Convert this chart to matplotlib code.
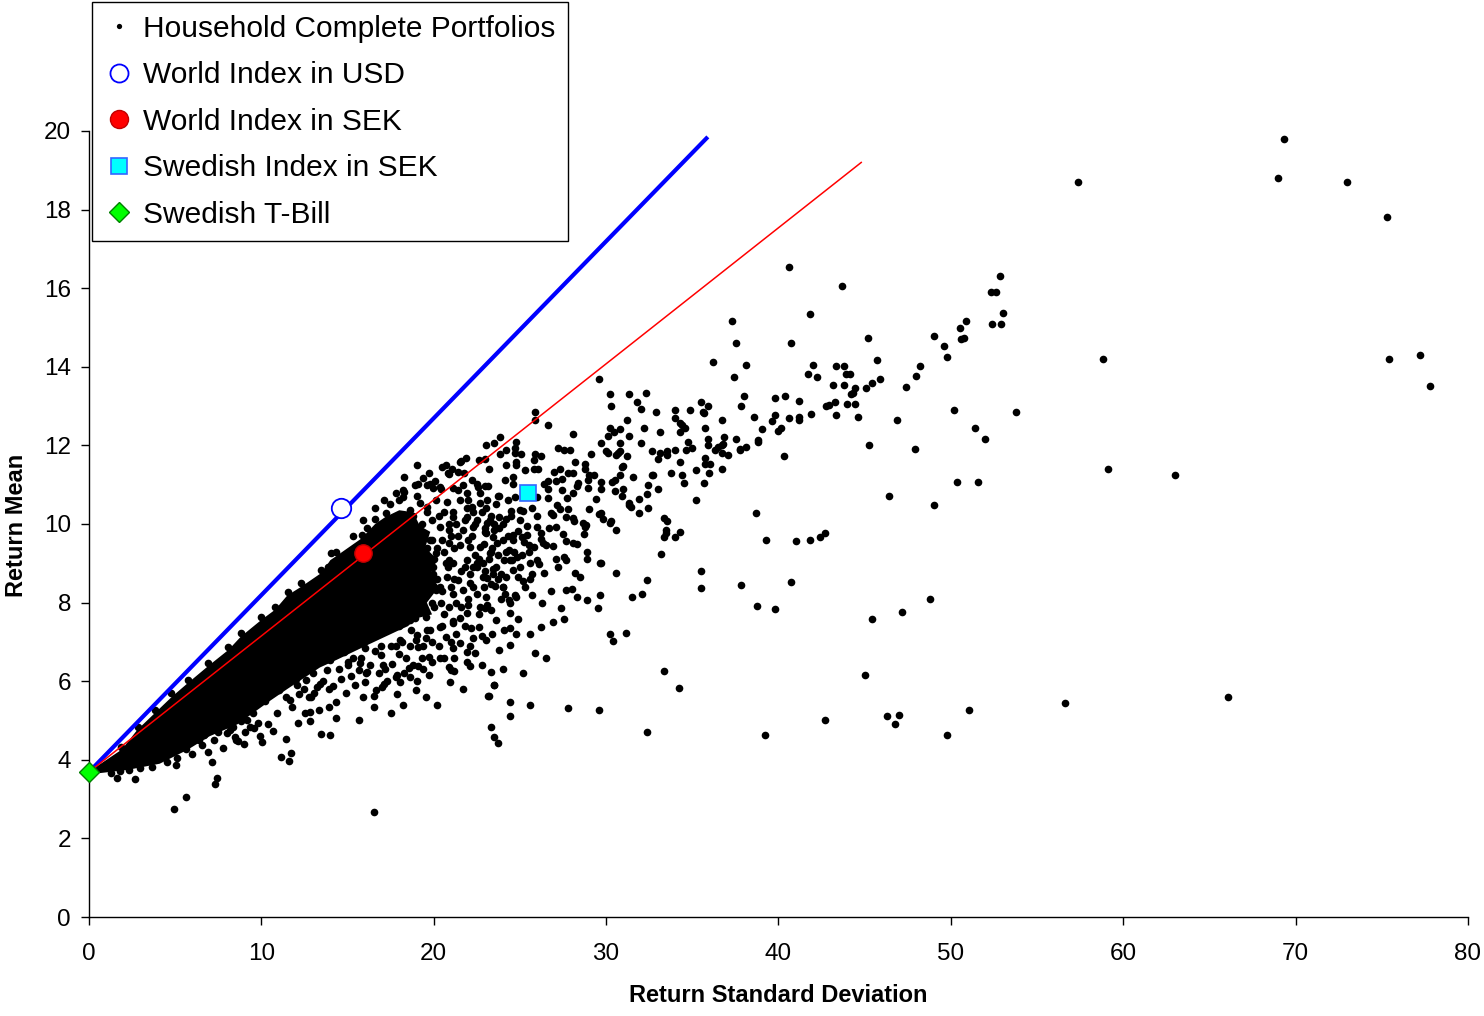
import matplotlib
matplotlib.use("Agg")
import matplotlib.pyplot as plt
from matplotlib.lines import Line2D

plt.rcParams['font.family'] = ['Liberation Sans', 'DejaVu Sans']

# ---------------- data (return std. dev., return mean) ----------------
# scattered household portfolios, far right
far_pts = [(69.3,19.8),(57.4,18.7),(69.0,18.8),(73.0,18.7),(75.3,17.8),(58.8,14.2),(75.4,14.2),
           (77.2,14.3),(77.8,13.5),(59.1,11.4),(63.0,11.25),(56.6,5.45),(66.1,5.6)]

# upper right band (sd 40-54)
upper_band_pts = [(40.6,16.55),(43.7,16.06),(41.8,15.34),(40.7,14.61),(45.2,14.74),(52.85,16.3),(52.3,15.9),
    (52.6,15.9),(53.0,15.38),(52.4,15.1),(52.9,15.1),(50.9,15.17),(50.55,14.98),(50.6,14.7),(50.75,14.73),
    (49.0,14.78),(49.6,14.54),(49.8,14.26),(48.2,14.01),(48.0,13.77),(47.4,13.49),(46.9,12.65),(45.7,14.17),
    (45.9,13.7),(45.45,13.58),(45.1,13.46),(44.45,13.47),(44.3,13.34),(44.2,13.32),(44.0,13.05),(44.45,13.05),
    (44.6,12.73),(43.35,14.01),(43.8,14.01),(43.9,13.82),(44.15,13.82),(43.15,13.54),(43.8,13.54),(43.25,13.1),
    (42.95,13.02),(42.75,13.0),(43.35,12.77),(42.0,14.05),(41.7,13.82),(42.25,13.74),(40.4,13.26),(41.2,13.14),
    (40.6,12.69),(41.2,12.73),(41.2,12.65),(41.9,12.81),(40.15,12.45),(45.25,12.02),(50.2,12.89),(53.8,12.85),
    (51.4,12.45),(52.0,12.17),(47.9,11.9),(37.3,15.17)]

# middle band (sd 29-43)
mid_band_pts = [(37.55,14.61),(36.2,14.13),(38.1,14.05),(37.4,13.73),(29.6,13.7),(30.2,13.3),(31.3,13.3),
    (32.3,13.33),(30.3,13.01),(31.8,13.1),(32.0,12.93),(32.9,12.86),(34.0,12.89),(34.85,12.89),(35.5,13.1),
    (35.9,13.01),(35.6,12.86),(35.7,12.82),(38.0,13.26),(37.85,13.01),(39.8,13.21),(39.8,12.77),(39.6,12.61),
    (38.6,12.73),(39.05,12.41),(40.0,12.37),(38.8,12.13),(38.8,12.09),(38.1,11.97),(37.75,11.92),(37.75,11.88),
    (37.55,12.17),(40.3,11.73),(36.75,12.65),(35.75,12.45),(34.75,12.09),(35.0,11.93),(34.65,11.89),(34.3,12.57),
    (34.4,12.53),(34.55,12.45),(34.3,12.33),(34.0,12.69),(33.1,12.33),(32.2,12.45),(31.2,12.65),(30.8,12.41),
    (30.45,12.33),(30.2,12.45),(30.1,12.25),(31.35,12.25),(32.0,12.05),(29.7,12.05),(30.8,12.05),(30.0,11.85),
    (30.1,11.8),(30.7,11.8),(30.6,11.76),(30.8,11.85),(31.2,11.73),(32.65,11.85),(33.1,11.8),(33.0,11.65),
    (33.55,11.85),(33.55,11.76),(34.0,11.89),(35.9,12.17),(35.9,12.0),(36.85,12.21),(36.3,11.89),(36.5,11.95),
    (36.7,12.0),(36.8,12.04),(36.75,11.8),(37.05,11.76),(35.75,11.69),(35.75,11.53),(36.0,11.53),(35.95,11.29),
    (36.7,11.41),(35.7,11.04),(35.2,11.37),(34.3,11.57),(33.75,11.29),(34.4,11.25),(34.5,11.04),(32.65,11.25),
    (32.7,11.25),(32.45,11.0),(33.0,10.88),(32.4,10.76),(31.9,10.64),(32.45,10.4),(31.9,10.29),(31.3,10.53),
    (31.35,10.48),(31.45,10.44),(31.55,11.2),(30.8,11.24),(30.9,11.44),(31.0,11.48),(30.35,11.08),(30.5,11.12),
    (29.7,11.08),(29.7,10.88),(30.5,10.84),(31.0,10.88),(30.9,10.72),(29.7,10.28),(29.8,10.12),(30.2,10.03),
    (30.3,10.08),(30.6,9.84),(29.7,9.0),(30.6,8.76),(32.35,8.57),(35.2,10.6),(33.35,10.16),(33.55,10.08),
    (33.45,9.84),(33.45,9.76),(33.35,9.68),(34.3,9.8),(34.0,9.68),(33.2,9.24),(35.5,8.8),(35.5,8.36),
    (37.85,8.44),(40.7,8.52),(38.7,10.28),(39.3,9.59),(41.0,9.56),(41.8,9.59),(42.4,9.68),(42.7,9.76),
    (50.35,11.08),(51.6,11.08),(46.4,10.72),(49.05,10.48)]

# lower scattered portfolios (sd 22-52, mean 4-9.5)
lower_pts = [(38.75,7.91),(39.8,7.84),(48.8,8.1),(45.4,7.59),(47.15,7.75),(45.0,6.15),(51.05,5.26),
    (46.3,5.11),(47.0,5.15),(46.75,4.91),(42.7,5.02),(39.2,4.62),(49.8,4.62),(33.35,6.27),(34.25,5.83),
    (32.1,8.23),(31.5,8.15),(31.15,7.23),(30.2,7.19),(30.4,7.03),(32.4,4.71),(29.6,5.27),(27.8,5.31),
    (25.6,5.39),(24.4,5.47),(24.4,5.11),(23.3,4.83),(23.5,4.59),(23.7,4.44),(23.2,5.62),(23.5,5.9),
    (23.3,6.23),(25.9,6.71),(25.6,7.19),(24.8,7.19),(24.4,7.35),(24.4,6.91),(26.2,7.39),(26.9,7.51),
    (27.55,7.59),(27.4,7.87),(24.9,7.59),(22.8,7.15),(23.0,7.87),(23.1,7.93),(29.5,7.87),(28.9,8.07),
    (29.65,8.19),(28.3,8.15),(27.7,8.31),(28.0,8.35),(28.5,8.64),(28.2,8.76),(28.9,9.28),(28.9,9.12),
    (29.65,9.0),(27.1,9.12),(27.55,9.16),(27.7,9.08),(26.9,9.44),(26.4,8.75),(25.7,8.72),(25.2,8.56),
    (24.9,8.64),(24.2,8.64),(24.0,8.39),(24.15,8.23),(24.35,8.07),(24.7,8.19),(25.7,8.19),(23.3,8.48),
    (23.55,8.41),(26.1,8.97),(26.0,9.08),(25.5,9.28),(25.1,9.2),(24.6,8.84),(25.0,8.91)]

# band right of the dense core (sd 17-30, mean 8.5-13)
near_core_pts = [(25.9,12.85),(25.9,12.65),(26.6,12.53),(28.1,12.29),(23.05,12.01),(23.5,12.05),(23.85,12.21),
    (24.8,12.09),(24.7,11.93),(24.7,11.8),(24.2,11.89),(23.85,11.77),(24.2,11.49),(22.95,11.65),(25.05,11.77),
    (25.9,11.77),(26.25,11.73),(27.2,11.93),(27.55,11.89),(27.9,11.89),(25.8,11.64),(24.8,11.57),(24.8,11.49),
    (25.3,11.37),(25.8,11.41),(26.05,11.41),(27.0,11.33),(27.35,11.41),(27.8,11.29),(28.1,11.29),(28.2,11.57),
    (28.8,11.53),(28.75,11.41),(29.1,11.77),(29.0,11.25),(29.3,11.25),(28.95,11.13),(26.6,11.09),(27.1,11.09),
    (27.45,11.14),(28.35,11.04),(28.3,10.97),(29.4,10.64),(28.95,10.92),(27.45,10.86),(27.75,10.67),(28.05,10.8),
    (24.7,10.69),(24.15,11.12),(24.5,10.32),(25.0,10.36),(23.7,10.72),(23.0,10.97),(26.0,10.68),(26.4,11.03),
    (26.6,10.88),(26.6,10.65),(27.15,10.48),(27.35,10.39),(27.8,10.39),(26.8,10.27),(26.9,10.23),(27.65,10.19),
    (28.1,10.16),(28.15,10.08),(28.65,10.02),(28.85,9.97),(28.75,9.92),(29.0,10.39),(28.7,9.75),(29.6,10.25),
    (27.5,9.74),(27.7,9.56),(28.1,9.52),(28.3,9.49),(27.1,9.92),(26.2,9.78),(26.2,9.61),(25.4,9.71),
    (25.1,9.66),(26.0,9.92),(25.4,9.94),(24.9,9.82),(24.6,9.72),(25.7,10.41),(25.2,10.34),(24.2,10.13),
    (24.0,10.0),(24.3,9.7),(23.5,9.86),(23.1,10.02),(22.95,9.8),(23.65,9.52),(23.3,9.29),(23.7,9.21),
    (24.1,9.08),(24.55,9.08),(24.85,9.17),(24.35,9.34),(24.65,9.29),(25.5,9.47),(25.8,9.42),(26.35,9.52),
    (26.5,9.47),(25.25,9.54),(23.45,8.85),(23.1,8.62),(22.85,9.0),(23.9,8.74),
    (22.6,11.64),(21.85,11.69),(21.55,11.58),(20.5,11.44),(21.05,11.41),(20.9,11.26),(19.4,11.16),(19.1,11.03),
    (21.75,11.31),(22.2,11.12),(22.5,11.03),(22.55,10.95),(23.15,10.97),(18.25,10.82),(18.2,10.69),(19.8,11.03),
    (19.95,10.91),(20.35,10.95),(21.1,10.92),(21.4,10.86),(21.9,10.78),(22.0,10.61),(18.6,10.36),(19.2,10.53),
    (19.6,10.44),(20.15,10.61),(20.75,10.57),(21.5,10.61),(22.2,10.44),(22.7,10.53),(23.05,10.4),(21.1,10.19),
    (21.9,10.19),(22.5,10.1),(23.25,10.1),(23.8,10.19),(20.35,9.93),(20.9,9.85),(21.7,9.85),(22.3,9.93),
    (23.05,9.76),(23.45,9.68),(19.2,9.76),(19.8,9.59),(20.9,9.51),(21.5,9.47),(22.1,9.42),(22.7,9.42),
    (23.25,9.25),(20.15,9.25),(20.9,9.08),(21.9,9.08),(22.5,9.0),(19.4,9.0),(19.95,8.74),(20.75,8.66),
    (21.4,8.57),(22.1,8.74),(22.85,8.66),(23.45,8.74),(20.35,8.4),(21.7,8.32),(22.5,8.23),(20.85,11.29),
    (21.4,11.33),(24.6,11.2),(24.6,11.03),(18.2,10.87),(18.0,10.61),(17.45,10.52),(18.8,10.2),(19.6,10.3)]

# portfolios below the dense core (sd 1-25, mean 2.5-9)
below_core_pts = [(16.55,2.66),(11.15,4.06),(11.6,3.98),(11.7,4.18),(11.4,4.54),(10.05,4.46),(10.7,4.74),
    (13.45,4.66),(14.0,4.62),(12.15,4.94),(12.8,4.99),(14.35,5.06),(15.65,5.02),(16.55,5.34),(16.55,5.62),
    (16.65,5.78),(17.0,5.86),(17.1,5.94),(17.85,5.67),(18.95,5.78),(19.55,5.59),(17.85,6.15),(18.05,5.98),
    (15.45,5.9),(16.0,5.98),(14.35,5.46),(13.9,5.35),(13.35,5.27),(12.55,5.18),(12.8,5.22),(12.2,5.67),
    (12.75,5.6),(13.05,5.69),(13.2,5.86),(14.15,5.88),(14.6,6.06),(15.2,6.13),(16.05,6.22),(15.65,6.28),
    (18.55,6.34),(19.1,6.38),(19.75,6.16),(19.75,6.62),(20.95,5.99),(20.9,6.37),(21.0,6.29),(21.2,6.27),
    (20.35,6.58),(21.1,6.84),(21.9,6.75),(22.4,6.72),(21.9,6.48),(22.1,6.39),(23.15,5.62),(23.5,5.91),
    (22.15,7.36),(21.1,7.53),(18.95,7.05),(19.1,6.86),(18.0,6.69),(18.15,6.99),(16.95,6.66),(17.05,6.41),
    (15.7,6.47),(16.1,6.23),(15.05,6.5),(16.95,6.9),(16.6,6.77),(18.05,7.06),(17.8,6.9),(19.05,7.18),
    (19.55,7.09),(11.65,5.52),(11.75,5.35),(11.05,5.78),(10.6,5.73),(12.05,5.9),(12.6,6.03),(13.4,5.94),
    (13.8,6.28),(9.5,5.18),(9.8,4.93),(9.15,5.01),(9.35,4.84),(8.75,5.22),(8.2,4.76),(8.35,4.84),(7.8,4.93),
    (8.55,4.5),(8.0,4.67),(18.4,8.57),(19.2,8.74),(19.95,8.91),(21.1,9.0),(22.3,8.91),(23.6,8.91),(24.4,9.08),
    (19.2,8.07),(20.15,8.32),(21.1,8.23),(22.3,8.4),(23.05,8.15),(24.0,8.4),(24.8,8.15),(18.6,7.56),
    (19.55,7.64),(20.35,7.39),(21.1,7.47),(21.9,7.73),(22.65,7.39),(23.6,7.56),(24.4,7.73),(20.7,7.13),
    (21.5,6.96),(23.05,7.05),(23.8,6.79),
    (16.8,7.9),(17.4,7.7),(18.0,7.4),(18.7,7.3),(19.3,7.8),(20.0,7.9),(20.6,7.7),(19.8,7.3),(20.3,6.9),
    (18.4,6.6),(17.3,7.3),(17.6,6.45),(16.2,7.6),(15.5,7.0),(14.8,6.75),(19.0,6.0),(20.5,8.3),(21.3,8.0),
    (22.0,7.95),(16.0,6.85),(14.0,6.55),(13.0,6.2),(12.0,6.05),(11.0,5.9),(10.2,5.5),(9.4,5.3),(8.8,5.0),
    (7.5,4.7),(6.4,4.5),(15.0,6.4),(17.7,8.1),
    (4.95,2.74),(5.65,3.06),(7.3,3.38),(7.4,3.54),(7.15,3.94),(5.05,3.87),(2.65,3.5),(1.65,3.54),(1.25,3.67),
    (5.6,4.27),(5.95,4.15),(5.95,4.5),(6.55,4.38),(7.25,4.5),(6.7,4.63),(8.65,4.49),(8.45,4.59),(9.05,4.72),
    (9.55,4.8),(4.5,3.95),(3.65,3.82),(2.95,3.78),(2.3,3.74),(1.8,3.72),(4.1,4.18),(3.8,4.2),(4.4,4.12),(5.1,4.04)]

# fringe of the dense core (sd 11-27)
fringe_pts = [(17.2,6.3),(17.5,6.9),(17.9,7.6),(18.3,6.2),(18.6,6.9),(18.9,8.3),(19.3,6.6),(19.6,7.3),
    (19.9,8.0),(20.2,8.6),(20.6,9.3),(20.9,10.0),(21.3,7.2),(21.6,7.9),(21.8,8.9),(22.0,9.6),(22.3,10.3),
    (22.6,7.7),(22.9,8.4),(23.2,9.1),(23.5,10.0),(23.8,10.7),(24.1,7.3),(24.4,8.0),(24.6,9.6),(25.0,10.1),
    (25.3,8.4),(25.6,9.0),(26.0,10.2),(26.3,8.0),(21.1,10.3),(20.4,10.9),(19.7,11.3),(18.9,11.0),(17.8,10.8),
    (17.1,10.6),(16.6,10.4),(15.9,10.1),(15.3,9.7),(20.0,9.1),(21.2,8.6),(22.4,9.2),(23.0,9.9),(23.7,8.6),
    (22.7,10.8),(24.3,10.6),(21.7,11.0),(20.7,11.5),(21.6,11.6),(23.2,11.4),(19.0,11.5),(18.3,11.2),
    (22.8,6.4),(24.0,6.3),(25.2,6.2),(26.5,6.6),(25.6,8.6),(26.8,8.3),(27.2,8.9),(26.7,9.9),(21.7,5.8),
    (20.2,5.4),(18.2,5.4),(17.5,5.2),(15.9,5.6),(14.9,5.7),(13.9,5.8),(12.9,5.6),(10.9,5.2),(10.4,4.9),
    (9.9,4.6),(9.0,4.4),(7.8,4.3),(6.9,4.2),
    (18.3,9.9),(18.7,9.5),(19.1,9.2),(19.5,8.9),(19.9,9.6),(20.3,10.2),(20.7,9.0),(21.0,8.4),(21.4,9.7),
    (21.8,10.1),(22.2,9.7),(22.6,9.1),(23.0,8.8),(23.4,9.4),(23.8,9.9),(24.2,9.3),(22.0,8.1),(21.5,7.6),
    (21.0,7.0),(20.5,7.4),(19.9,7.0),(19.4,6.9),(18.9,7.6),(18.4,7.9),(18.1,8.8),(18.5,9.1),(19.7,8.4),
    (20.4,8.0),(20.8,8.9),(21.2,9.4),(21.6,8.8),(22.1,8.5),(22.5,8.9),(22.9,9.5),(23.3,10.2),(23.6,10.5),
    (22.4,10.0),(21.9,10.4),(21.3,10.0),(20.6,10.3),(19.9,10.1),(19.3,10.0),(19.0,10.7),(19.6,11.0),
    (20.1,11.1),(20.5,9.6),(21.0,9.7),(20.0,8.6),(19.0,8.5),(18.3,8.4),(17.9,7.9),(17.5,8.3),(17.0,8.6),
    (16.8,8.3),(20.9,7.9),(21.8,7.4),(22.3,7.1),(22.7,7.9),(23.3,7.8),(23.9,8.1),(23.4,7.2),(22.1,6.9),
    (21.2,6.6),(20.6,6.6),(19.9,6.5),(19.4,6.3),(18.8,6.4),(18.6,6.1),(17.8,6.1),(17.3,6.0),(16.8,6.2),
    (16.3,6.4),(15.8,6.6),(15.3,6.6),(14.5,6.3),(13.6,6.0),(12.5,5.8),(11.4,5.6),(20.2,9.4),(18.8,8.9),
    (19.6,9.4),(22.8,10.3),(24.0,9.6),(24.5,10.2),(23.1,10.6)]

# upper edge of the dense core
edge_pts = [(1.86,4.33),(2.84,4.84),(3.81,5.27),(4.77,5.69),(5.74,6.03),(6.9,6.46),(8.06,6.88),(8.83,7.22),
    (9.99,7.64),(10.77,7.9),(11.54,8.28),(12.31,8.49),(13.47,8.83),(13.86,8.91),(14.05,9.25),(14.34,9.3),
    (15.83,9.72),(16.13,9.89),(16.6,10.12),(17.23,10.29)]

# outline of the fully over-plotted (solid) core of household portfolios
core_sd = [0.0, 1.9, 2.8, 3.8, 4.8, 5.7, 6.9, 8.1, 8.8, 10.0, 10.8, 11.5, 12.3, 13.5, 14.0, 14.4, 15.8, 16.6,
           17.2, 18.0, 18.8, 19.2, 19.8, 19.5, 20.2, 19.8, 20.3, 19.6, 19.9, 19.0, 18.5, 18.0, 16.3, 14.4,
           13.4, 11.5, 10.5, 8.6, 7.0, 5.7, 4.1, 2.2, 0.6]
core_mean = [3.7, 4.26, 4.76, 5.18, 5.6, 5.94, 6.38, 6.8, 7.13, 7.56, 7.82, 8.18, 8.4, 8.76, 9.08, 9.2, 9.63,
             10.0, 10.18, 10.35, 10.3, 9.95, 9.8, 9.4, 9.1, 8.7, 8.4, 8.0, 7.7, 7.6, 7.4, 7.3, 6.95, 6.55,
             6.35, 5.8, 5.5, 4.9, 4.6, 4.25, 3.9, 3.74, 3.66]

# benchmark assets
world_usd = (14.6, 10.41)
world_sek = (15.88, 9.26)
swedish_index = (25.45, 10.79)
tbill = (0.0, 3.69)

# capital allocation lines (from the T-bill through the world index)
usd_line_sd, usd_line_mean = [0.0, 35.9], [3.69, 19.85]
sek_line_sd, sek_line_mean = [0.0, 44.8], [3.69, 19.2]

x_ticks = [0, 10, 20, 30, 40, 50, 60, 70, 80]
y_ticks = [0, 2, 4, 6, 8, 10, 12, 14, 16, 18, 20]

# ---------------- figure ----------------
W, H = 1484, 1016
fig = plt.figure(figsize=(W / 100, H / 100), dpi=100)
ax = fig.add_axes([89 / W, 1 - 917 / H, (1468 - 89) / W, (917 - 131) / H])
ax.set_xlim(0, 80)
ax.set_ylim(0, 20)

all_pts = (far_pts + upper_band_pts + mid_band_pts + lower_pts + near_core_pts + below_core_pts
           + fringe_pts + edge_pts)
hx = [p[0] for p in all_pts]
hy = [p[1] for p in all_pts]

ax.fill(core_sd, core_mean, color='black', lw=0, zorder=2)
ax.plot(hx, hy, linestyle='none', marker='o', ms=5.5, mew=0, color='black', zorder=2, clip_on=False)

ax.plot(usd_line_sd, usd_line_mean, color='#0000FF', lw=3.0, zorder=3, solid_capstyle='butt')
ax.plot(sek_line_sd, sek_line_mean, color='#FF0000', lw=1.1, zorder=3)

ax.plot([world_usd[0]], [world_usd[1]], marker='o', ms=14, mfc='white', mec='#0000FF', mew=1.3,
        linestyle='none', zorder=4)
ax.plot([world_sek[0]], [world_sek[1]], marker='o', ms=12.5, mfc='#FF0000', mec='#C00000', mew=1.0,
        linestyle='none', zorder=4)
ax.plot([swedish_index[0]], [swedish_index[1]], marker='s', ms=11.5, mfc='#00FFFF', mec='#3366FF', mew=1.2,
        linestyle='none', zorder=4)
ax.plot([tbill[0]], [tbill[1]], marker='D', ms=10.5, mfc='#00FF00', mec='#008000', mew=1.0,
        linestyle='none', zorder=5, clip_on=False)

for s in ['top', 'right']:
    ax.spines[s].set_visible(False)
for s in ['left', 'bottom']:
    ax.spines[s].set_linewidth(1.0)
    ax.spines[s].set_color('black')
ax.set_xticks(x_ticks)
ax.set_yticks(y_ticks)
ax.tick_params(axis='x', direction='out', length=6, width=1.0, pad=13, labelsize=17.5)
ax.tick_params(axis='y', direction='out', length=6, width=1.0, pad=7, labelsize=17.5)

fig.text(778 / W, 1 - 995 / H, 'Return Standard Deviation', ha='center', va='center',
         fontsize=17, fontweight='bold')
fig.text(17 / W, 1 - 525 / H, 'Return Mean', ha='center', va='center', rotation=90,
         fontsize=17, fontweight='bold')

handles = [
    Line2D([], [], linestyle='none', marker='o', ms=3.8, mew=0, color='black'),
    Line2D([], [], linestyle='none', marker='o', ms=13, mfc='white', mec='#0000FF', mew=1.3),
    Line2D([], [], linestyle='none', marker='o', ms=13, mfc='#FF0000', mec='#C00000', mew=1.0),
    Line2D([], [], linestyle='none', marker='s', ms=12, mfc='#00FFFF', mec='#3366FF', mew=1.2),
    Line2D([], [], linestyle='none', marker='D', ms=10, mfc='#00FF00', mec='#008000', mew=1.0),
]
labels = ['Household Complete Portfolios', 'World Index in USD', 'World Index in SEK',
          'Swedish Index in SEK', 'Swedish T-Bill']
leg = fig.legend(handles, labels, loc='upper left', bbox_to_anchor=(92 / W, 1 - 2 / H),
                 bbox_transform=fig.transFigure, fontsize=21.5, frameon=True, fancybox=False,
                 edgecolor='black', framealpha=1, handlelength=1.0, handletextpad=0.3,
                 borderpad=0.42, labelspacing=0.62, borderaxespad=0, markerscale=1.0)
leg.get_frame().set_linewidth(1.0)

fig.savefig('out.png', dpi=100)
